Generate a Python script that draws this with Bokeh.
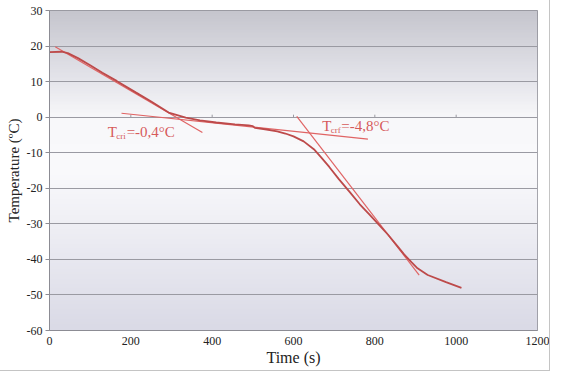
import numpy as np
from bokeh.plotting import figure
from bokeh.models import FixedTicker, Range1d
from bokeh.core.properties import value
from bokeh.embed import file_html
from bokeh.resources import INLINE

# ---- data ----
time_s = [0, 30, 45, 70, 100, 130, 165, 213, 250, 293, 335, 370, 410, 456, 490,
          500, 505, 530, 560, 580, 600, 625, 650, 668, 688, 712, 738, 763, 787,
          812, 832, 855, 872, 890, 905, 930, 975, 1013]
temp_c = [18.3, 18.4, 18.0, 16.6, 14.6, 12.5, 10.2, 6.9, 4.4, 1.3, -0.1, -0.9,
          -1.5, -2.0, -2.3, -2.5, -3.0, -3.4, -4.0, -4.6, -5.4, -6.8, -9.0, -11.3,
          -14.0, -17.5, -21.0, -24.5, -27.4, -30.5, -33.0, -36.2, -38.6, -40.8,
          -42.5, -44.4, -46.4, -48.0]

# tangent lines (start/end points)
tan_x0 = [14, 177, 608]
tan_y0 = [19.8, 1.1, 0.2]
tan_x1 = [376, 783, 909]
tan_y1 = [-4.3, -6.2, -44.4]

x_ticks = [0, 200, 400, 600, 800, 1000, 1200]
y_ticks = [30, 20, 10, 0, -10, -20, -30, -40, -50, -60]

SERIF = "Liberation Serif"
CURVE = "#bd4a4a"
TANG = "#e06464"
LABEL = "#d65a5a"
GRID = "#9a9aa2"

p = figure(width=549, height=370, output_backend="svg", toolbar_location=None,
           x_range=Range1d(0, 1200), y_range=Range1d(-60, 30),
           min_border_left=49, min_border_right=12, min_border_top=10,
           min_border_bottom=40)

# gradient background of the plot area (decoration)
stops_y = [-60, -40, -15, 0, 10, 30]
stops_c = [(218, 218, 230), (232, 232, 240), (250, 250, 252), (248, 248, 250),
           (230, 230, 236), (198, 198, 206)]
ny = 200
ys = np.linspace(-60, 30, ny)
rgb = np.stack([np.interp(ys, stops_y, [c[i] for c in stops_c]) for i in range(3)], axis=1).astype(np.uint32)
img = np.empty((ny, 1), dtype=np.uint32)
img[:, 0] = (255 << 24) | (rgb[:, 2] << 16) | (rgb[:, 1] << 8) | rgb[:, 0]
p.image_rgba(image=[img], x=0, y=-60, dw=1200, dh=90, level="image")

p.xgrid.grid_line_color = None
p.ygrid.grid_line_color = GRID
p.ygrid.grid_line_width = 1
p.ygrid.ticker = FixedTicker(ticks=y_ticks)
p.outline_line_color = "#8c8c94"
p.background_fill_color = "white"
p.border_fill_color = "white"

# small tick marks on the zero line
p.segment(x0=x_ticks[1:-1], y0=0, x1=x_ticks[1:-1], y1=0.7, line_color=GRID, line_width=1)

# tangents
p.segment(x0=tan_x0, y0=tan_y0, x1=tan_x1, y1=tan_y1, line_color=TANG, line_width=1.2)
# measured curve
p.line(time_s, temp_c, line_color=CURVE, line_width=1.8)

# annotations
def tlabel(x, y, sub, rest):
    p.text(x=[x], y=[y], text=["T"], text_font=value(SERIF), text_font_size="15px",
           text_color=LABEL, text_baseline="middle", text_align="left")
    p.text(x=[x], y=[y], text=[sub], text_font=value(SERIF), text_font_size="9px",
           text_color=LABEL, text_baseline="middle", text_align="left",
           x_offset=8.5, y_offset=4)
    p.text(x=[x], y=[y], text=[rest], text_font=value(SERIF), text_font_size="15px",
           text_color=LABEL, text_baseline="middle", text_align="left",
           x_offset=19)

tlabel(143, -4.3, "cri", "=-0,4°C")
tlabel(671, -2.6, "crf", "=-4,8°C")

# axes
for ax in (p.xaxis[0], p.yaxis[0]):
    ax.axis_line_color = "#8c8c94"
    ax.major_tick_line_color = "#8c8c94"
    ax.minor_tick_line_color = None
    ax.major_label_text_font = SERIF
    ax.major_label_text_font_size = "12px"
    ax.major_label_text_color = "#222222"
    ax.axis_label_text_font = SERIF
    ax.axis_label_text_font_style = "normal"
    ax.axis_label_text_color = "#222222"

p.xaxis.ticker = FixedTicker(ticks=x_ticks)
p.yaxis.ticker = FixedTicker(ticks=y_ticks)
p.yaxis.major_label_overrides = {t: str(t) for t in y_ticks}
p.xaxis.major_label_overrides = {t: str(t) for t in x_ticks}
p.xaxis.major_tick_out = 0
p.xaxis.major_tick_in = 0
p.xaxis.major_label_standoff = 6
p.xaxis.axis_label = "Time (s)"
p.xaxis.axis_label_text_font_size = "16px"
p.xaxis.axis_label_standoff = 1
p.yaxis.major_tick_out = 4
p.yaxis.major_tick_in = 0
p.yaxis.major_label_standoff = 3
p.yaxis.axis_label = "Temperature (ºC)"
p.yaxis.axis_label_text_font_size = "15px"
p.yaxis.axis_label_standoff = 2

p.styles = {"outline": "1px solid #c4c4c4"}

open("out.html", "w").write(file_html(p, INLINE))
